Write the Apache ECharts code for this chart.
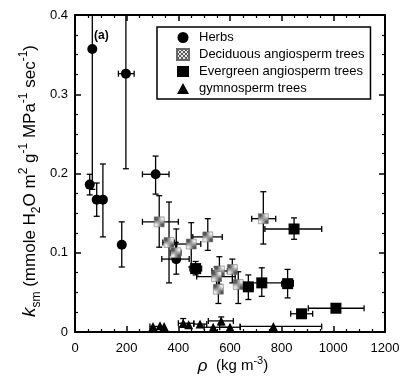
<!DOCTYPE html>
<html>
<head>
<meta charset="utf-8">
<script src="https://cdn.jsdelivr.net/npm/echarts@6/dist/echarts.min.js"></script>
<style>
  html, body { margin: 0; padding: 0; background: #fff; }
  #wrap { position: relative; width: 405px; height: 383px; }
  #main, #frame { position: absolute; left: 0; top: 0; width: 405px; height: 383px; }
  #frame { pointer-events: none; z-index: 2; }
  #main { z-index: 1; }
  #err { position: absolute; left: 2px; bottom: 2px; font: 8px monospace; color: #c00; z-index: 3; }
</style>
</head>
<body>
<div id="wrap"><div id="main"></div><div id="frame"></div><div id="err"></div></div>
<script>
// each row: [rho, ksm, xLow, xHigh, yLow, yHigh]  (null = no error bar)
var herbs = [
  [67, 0.357, null, null, 0.18, 0.45],
  [57, 0.186, 50, 64, 0.173, 0.199],
  [84, 0.167, null, null, 0.146, 0.188],
  [108, 0.167, null, null, 0.120, 0.212],
  [181, 0.110, 170, 192, 0.082, 0.139],
  [197, 0.326, 168, 229, 0.206, 0.45],
  [312, 0.199, 261, 364, 0.174, 0.222],
  [392, 0.092, 336, 442, 0.073, 0.130]
];
var deciduous = [
  [326, 0.139, 261, 400, 0.107, 0.172],
  [364, 0.113, 340, 385, 0.062, 0.164],
  [390, 0.100, 370, 410, 0.088, 0.113],
  [450, 0.111, 394, 487, 0.082, 0.138],
  [514, 0.120, 456, 570, 0.103, 0.143],
  [559, 0.077, 530, 590, 0.060, 0.095],
  [548, 0.070, 471, 620, 0.058, 0.082],
  [555, 0.054, null, null, 0.036, 0.065],
  [609, 0.079, 595, 625, 0.062, 0.092],
  [632, 0.060, 620, 645, 0.036, 0.076],
  [729, 0.143, 684, 777, 0.111, 0.177]
];
var evergreen = [
  [467, 0.080, 445, 490, 0.072, 0.089],
  [671, 0.057, 650, 690, 0.041, 0.072],
  [723, 0.062, 640, 845, 0.045, 0.081],
  [823, 0.061, 800, 845, 0.043, 0.079],
  [848, 0.130, 735, 955, 0.117, 0.144],
  [877, 0.023, 835, 920, 0.019, 0.027],
  [1010, 0.030, 903, 1119, 0.026, 0.034]
];
var gymno = [
  [302, 0.007, 290, 330, null, null],
  [329, 0.008, null, null, null, null],
  [345, 0.007, null, null, null, null],
  [419, 0.011, 400, 460, 0.006, 0.017],
  [440, 0.009, null, null, null, null],
  [484, 0.010, 460, 510, null, null],
  [535, 0.006, 500, 600, null, null],
  [566, 0.014, 516, 613, 0.009, 0.019],
  [600, 0.006, 560, 640, null, null],
  [768, 0.007, 639, 955, null, null]
];
var groupNames = ['Herbs', 'Deciduous angiosperm trees', 'Evergreen angiosperm trees', 'gymnosperm trees'];

var FONT = '"Liberation Sans", Arial, sans-serif';
var errBox = document.getElementById('err');

function gridPos() { return { left: 75, right: 20, top: 15, bottom: 51 }; }

function axisCommon(minor) {
  var o = {
    axisLine: { show: true, onZero: false, lineStyle: { color: '#000', width: 2 } },
    axisTick: { show: true, inside: true, length: 6, lineStyle: { color: '#000', width: 1.5 } },
    splitLine: { show: false }
  };
  if (minor) o.minorTick = { show: true, splitNumber: 4, length: 3, lineStyle: { color: '#000', width: 1.2 } };
  return o;
}

// mirrored top / right axes on a transparent layer, drawn first
function frameOption(minor) {
  return {
    animation: false,
    grid: gridPos(),
    xAxis: Object.assign({ type: 'value', position: 'top', min: 0, max: 1200, interval: 200,
      axisLabel: { show: false } }, axisCommon(minor)),
    yAxis: Object.assign({ type: 'value', position: 'right', min: 0, max: 0.4, interval: 0.1,
      axisLabel: { show: false } }, axisCommon(minor)),
    series: [{ type: 'scatter', symbolSize: 0, data: [[0, 0]] }]
  };
}
var frameChart = echarts.init(document.getElementById('frame'));
try {
  frameChart.setOption(frameOption(true));
} catch (e) {
  errBox.textContent += 'F:' + e.message + ' ';
  try { frameChart.setOption(frameOption(false), true); } catch (e2) {}
}

// checkered fill for deciduous symbols
var pat = document.createElement('canvas');
pat.width = 4; pat.height = 4;
var pc = pat.getContext('2d');
pc.fillStyle = '#e8e8e8'; pc.fillRect(0, 0, 4, 4);
pc.fillStyle = '#555'; pc.fillRect(0, 0, 2, 2); pc.fillRect(2, 2, 2, 2);

var allRows = herbs.concat(deciduous, evergreen, gymno);

function errBars(params, api) {
  var x = api.value(0), y = api.value(1);
  var xl = api.value(2), xh = api.value(3), yl = api.value(4), yh = api.value(5);
  var kids = [];
  var st = { stroke: '#000', lineWidth: 1.3 };
  var c = 3;
  if (!isNaN(yl) && !isNaN(yh)) {
    var p1 = api.coord([x, yl]), p2 = api.coord([x, yh]);
    kids.push({ type: 'line', shape: { x1: p1[0], y1: p1[1], x2: p2[0], y2: p2[1] }, style: st });
    kids.push({ type: 'line', shape: { x1: p1[0] - c, y1: p1[1], x2: p1[0] + c, y2: p1[1] }, style: st });
    if (yh <= 0.4) kids.push({ type: 'line', shape: { x1: p2[0] - c, y1: p2[1], x2: p2[0] + c, y2: p2[1] }, style: st });
  }
  if (!isNaN(xl) && !isNaN(xh)) {
    var q1 = api.coord([xl, y]), q2 = api.coord([xh, y]);
    kids.push({ type: 'line', shape: { x1: q1[0], y1: q1[1], x2: q2[0], y2: q2[1] }, style: st });
    kids.push({ type: 'line', shape: { x1: q1[0], y1: q1[1] - c, x2: q1[0], y2: q1[1] + c }, style: st });
    kids.push({ type: 'line', shape: { x1: q2[0], y1: q2[1] - c, x2: q2[0], y2: q2[1] + c }, style: st });
  }
  return { type: 'group', children: kids };
}

var myChart = echarts.init(document.getElementById('main'));
var option = {
  animation: false,
  backgroundColor: '#fff',
  grid: gridPos(),
  xAxis: Object.assign({ type: 'value', min: 0, max: 1200, interval: 200,
    axisLabel: { color: '#000', fontSize: 13, fontFamily: FONT, margin: 10,
      formatter: function (v) { return String(v); } } }, axisCommon(true)),
  yAxis: Object.assign({ type: 'value', min: 0, max: 0.4, interval: 0.1,
    axisLabel: { color: '#000', fontSize: 13, fontFamily: FONT, margin: 7,
      formatter: function (v) { return v === 0 ? '0' : String(+v.toFixed(1)); } } }, axisCommon(true)),
  legend: {
    data: groupNames,
    orient: 'vertical',
    left: 157, top: 27,
    width: 206,
    padding: [4, 6, 4, 19],
    itemGap: 4,
    itemWidth: 12, itemHeight: 11,
    borderColor: '#000', borderWidth: 1.5, borderRadius: 0,
    backgroundColor: '#fff',
    textStyle: { color: '#000', fontSize: 13, fontFamily: FONT, padding: [0, 0, 0, 5] }
  },
  graphic: [
    { type: 'text', left: 94, top: 30, style: { text: '(a)', fontSize: 12, fontWeight: 'bold', fontFamily: FONT, fill: '#000' } },
    { type: 'text', x: 30, y: 181, rotation: Math.PI / 2,
      style: {
        text: '{i|k}{sub|sm} (mmole H{sub|2}O m{sup|2} g{sup|-1} MPa{sup|-1} sec{sup|-1})',
        align: 'center', verticalAlign: 'middle', fill: '#000', fontFamily: FONT, fontSize: 17,
        rich: {
          i: { fontSize: 19, fontStyle: 'italic', fontFamily: FONT, lineHeight: 25 },
          sub: { fontSize: 12, fontFamily: FONT, verticalAlign: 'bottom', lineHeight: 25 },
          sup: { fontSize: 12, fontFamily: FONT, verticalAlign: 'top', lineHeight: 25 }
        }
      } },
    { type: 'text', x: 233, y: 366,
      style: {
        text: '{i|ρ}  (kg m{sup|-3})',
        align: 'center', verticalAlign: 'middle', fill: '#000', fontFamily: FONT, fontSize: 15,
        rich: {
          i: { fontSize: 17, fontStyle: 'italic', fontFamily: FONT, lineHeight: 22 },
          sup: { fontSize: 11, fontFamily: FONT, verticalAlign: 'top', lineHeight: 22 }
        }
      } }
  ],
  series: [
    { type: 'custom', name: 'err', renderItem: errBars, clip: true, z: 1,
      encode: { x: 0, y: 1 }, data: allRows },
    { type: 'scatter', name: groupNames[0], symbol: 'circle', symbolSize: 10, z: 3,
      itemStyle: { color: '#000', opacity: 1 }, data: herbs.map(function (r) { return [r[0], r[1]]; }) },
    { type: 'scatter', name: groupNames[1], symbol: 'rect', symbolSize: 10, z: 3,
      itemStyle: { color: { image: pat, repeat: 'repeat' }, borderColor: '#666', borderWidth: 0.5, opacity: 1 },
      data: deciduous.map(function (r) { return [r[0], r[1]]; }) },
    { type: 'scatter', name: groupNames[2], symbol: 'rect', symbolSize: 11, z: 3,
      itemStyle: { color: '#000', opacity: 1 }, data: evergreen.map(function (r) { return [r[0], r[1]]; }) },
    { type: 'scatter', name: groupNames[3], symbol: 'triangle', symbolSize: 9, z: 3,
      itemStyle: { color: '#000', opacity: 1 }, data: gymno.map(function (r) { return [r[0], r[1]]; }) }
  ]
};
try {
  myChart.setOption(option);
} catch (e) {
  errBox.textContent += 'M:' + e.message;
}
</script>
</body>
</html>
